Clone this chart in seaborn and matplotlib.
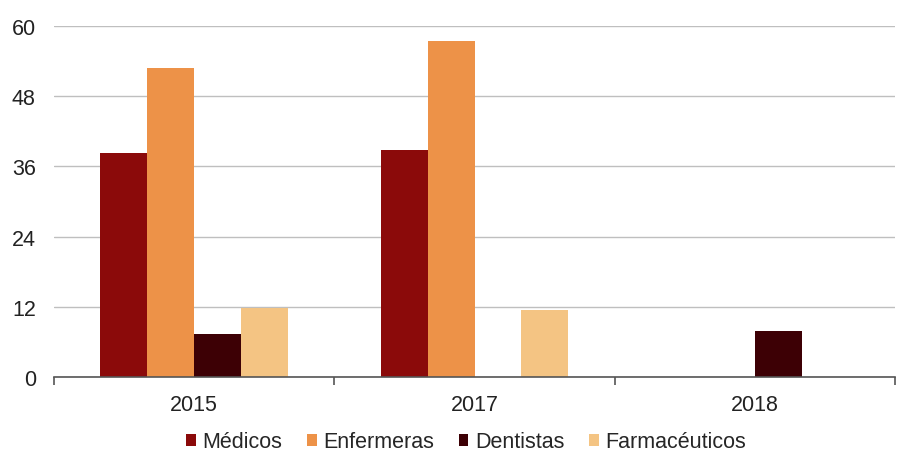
import numpy as np
import pandas as pd
import matplotlib.pyplot as plt
import seaborn as sns

years = ['2015', '2017', '2018']
categorias = ['Médicos', 'Enfermeras', 'Dentistas', 'Farmacéuticos']
medicos = [38.3, 38.8, np.nan]
enfermeras = [52.8, 57.4, np.nan]
dentistas = [7.4, np.nan, 7.9]
farmaceuticos = [11.8, 11.4, np.nan]
colores = ['#8B0A0A', '#ED9248', '#3D0005', '#F4C483']

df = pd.DataFrame({'year': years, 'Médicos': medicos, 'Enfermeras': enfermeras,
                   'Dentistas': dentistas, 'Farmacéuticos': farmaceuticos})
df = df.melt(id_vars='year', var_name='cat', value_name='val')

sns.set_style('white')
plt.rcParams['font.family'] = ['Liberation Sans', 'DejaVu Sans']

fig = plt.figure(figsize=(8.97, 4.52), dpi=100)
ax = fig.add_axes([0.060, 0.1637, 0.938, 0.7763])

sns.barplot(data=df, x='year', y='val', hue='cat', order=years, hue_order=categorias,
            palette=colores, width=0.67, saturation=1, ax=ax, errorbar=None,
            linewidth=0)

ax.set_ylim(0, 60)
ax.set_yticks(np.arange(0, 61, 12))
ax.set_xlim(-0.5, 2.5)
ax.yaxis.grid(True, color='#BFBFBF', linewidth=1)
ax.set_axisbelow(True)
for s in ['left', 'right', 'top']:
    ax.spines[s].set_visible(False)
ax.spines['bottom'].set_color('#555555')
ax.spines['bottom'].set_linewidth(1.2)
ax.set_xlabel('')
ax.set_ylabel('')
ax.tick_params(axis='y', length=0, labelsize=15.5, colors='#222222', pad=13)
ax.tick_params(axis='x', length=0, labelsize=15.5, colors='#222222', pad=12)
ax.set_xticks([-0.5, 0.5, 1.5, 2.5], minor=True)
ax.tick_params(axis='x', which='minor', bottom=True, length=6, color='#555555', width=1.2)

handles, labels = ax.get_legend_handles_labels()
ax.legend(handles, labels, loc='center', bbox_to_anchor=(0.49, -0.185),
          ncol=4, frameon=False, fontsize=15.5, handlelength=0.45, handleheight=0.45,
          handletextpad=0.3, columnspacing=1.15, borderaxespad=0)

fig.savefig('out.png', dpi=100)
